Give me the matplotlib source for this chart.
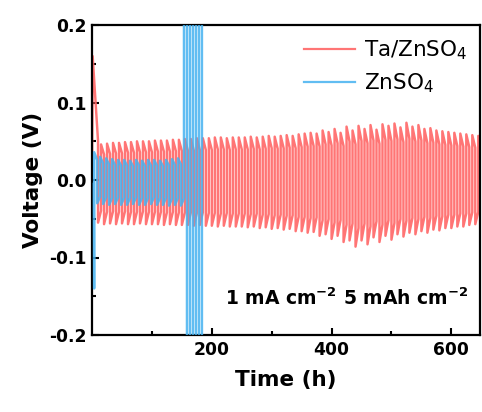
import numpy as np
import matplotlib
matplotlib.use('Agg')
import matplotlib.pyplot as plt

######################################################################
## Data (per 10 h cycle)
######################################################################

period = 10.0           # h, 5 h plating + 5 h stripping
decay = 0.72            # end-of-half / start-of-half voltage ratio

# Ta/ZnSO4: first formation segment then regular cycles from t = 10 h
ta_start_t = [0.0, 1.0, 10.0]
ta_start_v = [0.012, 0.160, 0.050]
ta_cycle_t0 = 10.0
ta_hi = [0.046, 0.047, 0.048, 0.048, 0.049, 0.049, 0.050, 0.050, 0.050, 0.051,
         0.051, 0.051, 0.052, 0.052,
         0.053, 0.053, 0.054, 0.054, 0.054, 0.055, 0.055, 0.054, 0.055, 0.055,
         0.055, 0.056, 0.055, 0.056, 0.057, 0.056, 0.057, 0.058, 0.057, 0.059,
         0.060, 0.061, 0.060, 0.064, 0.062, 0.066, 0.061, 0.069, 0.064, 0.070,
         0.066, 0.071, 0.065, 0.072, 0.070, 0.073, 0.068, 0.074, 0.069, 0.071,
         0.066, 0.067, 0.064, 0.063, 0.062, 0.061, 0.060, 0.059, 0.058, 0.057]
ta_lo = [-0.055, -0.057, -0.056, -0.057, -0.056, -0.057, -0.057, -0.056, -0.057, -0.057,
         -0.057, -0.058, -0.057, -0.058,
         -0.058, -0.058, -0.059, -0.058, -0.059, -0.059, -0.060, -0.059, -0.060, -0.060,
         -0.060, -0.061, -0.060, -0.062, -0.061, -0.063, -0.062, -0.064, -0.063, -0.066,
         -0.066, -0.068, -0.067, -0.072, -0.070, -0.076, -0.072, -0.080, -0.078, -0.086,
         -0.078, -0.083, -0.074, -0.080, -0.072, -0.077, -0.070, -0.073, -0.068, -0.070,
         -0.066, -0.068, -0.064, -0.065, -0.062, -0.062, -0.060, -0.060, -0.058, -0.057]

# bare ZnSO4: initial dip, stable cycles, then short-circuit swings (~150-190 h)
zn_start_t = [3.0, 3.5]
zn_start_v = [-0.005, -0.140]
zn_cycle_t0 = 3.5
zn_hi = [0.036, 0.030, 0.028, 0.027, 0.026, 0.026, 0.025, 0.026, 0.025, 0.026,
         0.026, 0.025, 0.026, 0.027, 0.028]
zn_lo = [-0.030, -0.031, -0.032, -0.031, -0.032, -0.032, -0.031, -0.032, -0.032, -0.031,
         -0.032, -0.032, -0.033, -0.032, -0.033]
zn_fail_v = [0.45, -0.45, 0.50, -0.48, 0.48, -0.50, 0.50]


def build_profile(t_start, v_start, t0, halves):
    """Turn a list of half-cycle start voltages into a time/voltage trace."""
    t = list(t_start)
    v = list(v_start)
    half = period / 2
    for i, peak in enumerate(halves):
        a = t0 + i * half
        t += [a, a + half]
        v += [peak, peak * decay]
    return np.array(t), np.array(v)


ta_halves = []
for lo, hi in zip(ta_lo, ta_hi):
    ta_halves += [lo, hi]
zn_halves = []
for hi, lo in zip(zn_hi, zn_lo):
    zn_halves += [hi, lo]
zn_halves += zn_fail_v

ta_t, ta_v = build_profile(ta_start_t, ta_start_v, ta_cycle_t0, ta_halves)
zn_t, zn_v = build_profile(zn_start_t, zn_start_v, zn_cycle_t0, zn_halves)

######################################################################
## Plot
######################################################################

plt.rcParams['font.family'] = 'DejaVu Sans'
plt.rcParams['mathtext.fontset'] = 'dejavusans'

fig = plt.figure(figsize=(4.82, 4.12), dpi=100)
ax = fig.add_axes([0.191, 0.187, 0.805, 0.752])

ax.plot(ta_t, ta_v, color='#FF6666', lw=1.75, alpha=0.9, label='Ta/ZnSO$_4$', zorder=2)
ax.plot(zn_t, zn_v, color='#45B2F0', lw=1.75, alpha=0.85, label='ZnSO$_4$', zorder=3)

ax.set_xlim(0, 648)
ax.set_ylim(-0.2, 0.2)
ax.set_xticks([200, 400, 600])
ax.set_xticks([100, 300, 500], minor=True)
ax.set_yticks([-0.2, -0.1, 0.0, 0.1, 0.2])
ax.set_yticks([-0.15, -0.05, 0.05, 0.15], minor=True)
ax.set_yticklabels(['-0.2', '-0.1', '0.0', '0.1', '0.2'])

ax.tick_params(which='both', direction='in', width=1.5, labelsize=12.3, pad=4)
ax.tick_params(which='major', length=5)
ax.tick_params(which='minor', length=3)
for lbl in ax.get_xticklabels() + ax.get_yticklabels():
    lbl.set_fontweight('bold')
for sp in ax.spines.values():
    sp.set_linewidth(1.6)

ax.set_xlabel('Time (h)', fontsize=15.5, fontweight='bold', labelpad=8)
ax.set_ylabel('Voltage (V)', fontsize=15.5, fontweight='bold', labelpad=4)

leg = ax.legend(loc='upper right', frameon=False, fontsize=15.5,
                handlelength=2.4, handletextpad=0.4, labelspacing=0.45,
                borderaxespad=0.2)
for line in leg.get_lines():
    line.set_linewidth(1.6)

ax.text(0.969, 0.119, r'1 mA cm$^{\mathbf{-2}}$ 5 mAh cm$^{\mathbf{-2}}$',
        transform=ax.transAxes, ha='right', va='center',
        fontsize=13.5, fontweight='bold')

fig.savefig('out.png', dpi=100)
